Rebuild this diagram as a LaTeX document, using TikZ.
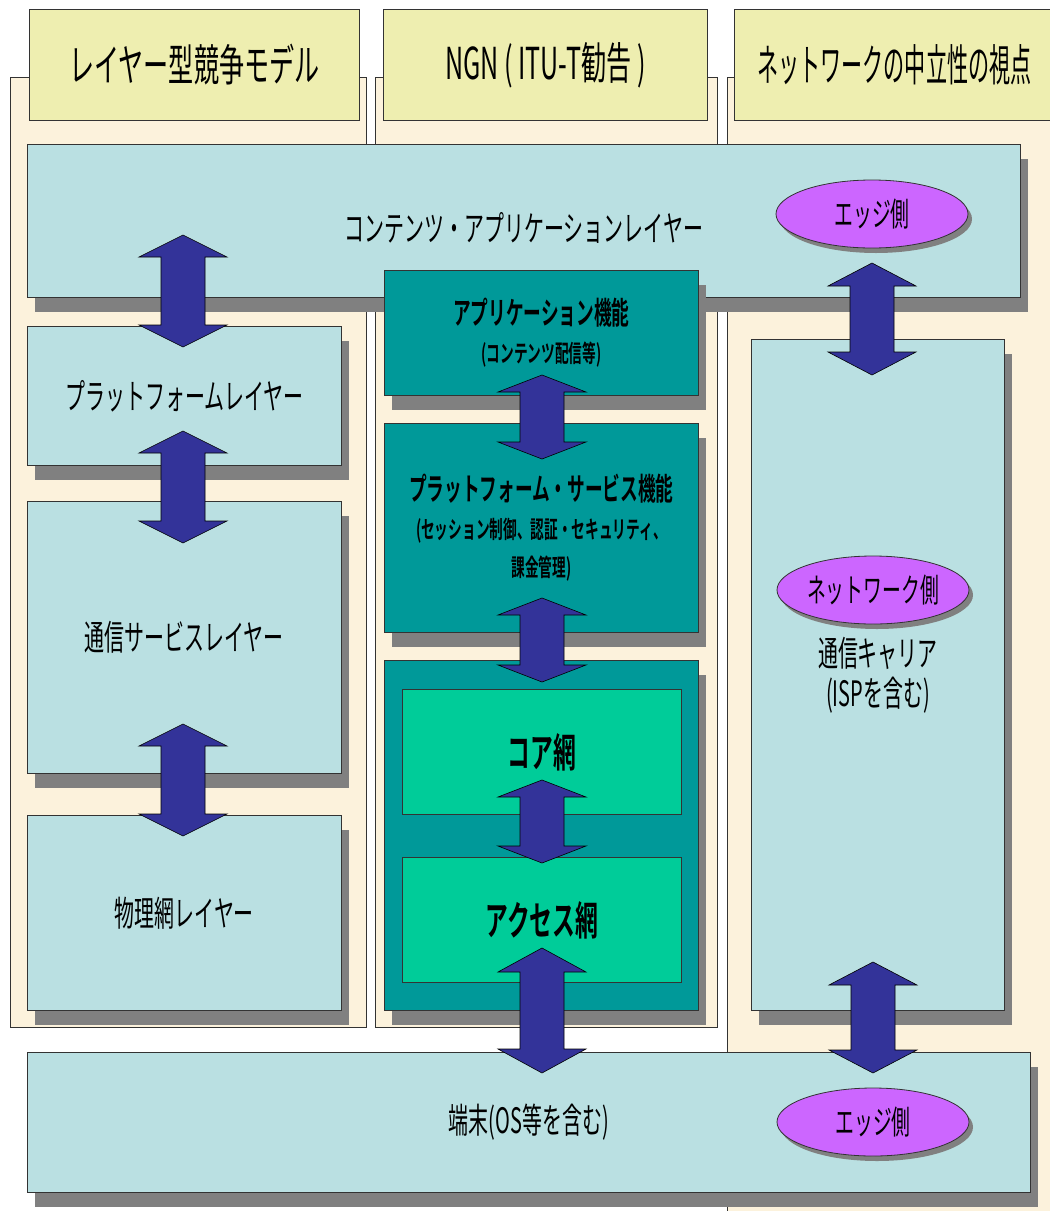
\documentclass[tikz,border=0pt]{standalone}
\usepackage{fontspec}
\setmainfont{Noto Sans CJK JP}[FakeStretch=0.57, BoldFont={Noto Sans CJK JP Bold}]
\usepackage{tikz}
\usetikzlibrary{shapes.geometric,shadows,calc}
\definecolor{ngncream}{RGB}{252,242,220}
\definecolor{ngnyellow}{RGB}{238,238,176}
\definecolor{ngnblue}{RGB}{186,224,226}
\definecolor{ngnteal}{RGB}{0,153,153}
\definecolor{ngngreen}{RGB}{0,204,153}
\definecolor{ngnnavy}{RGB}{51,51,153}
\definecolor{ngnpurple}{RGB}{204,102,255}
\definecolor{ngnshadow}{RGB}{128,128,128}

\tikzset{
    colbg/.style={draw=black!80, fill=ngncream, line width=0.8pt},
    header/.style={draw=black!80, fill=ngnyellow, line width=0.8pt, anchor=north west,
        inner sep=0pt, minimum height=111pt, font=\fontsize{44}{48}\selectfont},
    layer/.style={draw=black!80, fill=ngnblue, line width=0.8pt, anchor=north west,
        inner sep=0pt, align=center, font=\fontsize{35}{40}\selectfont,
        drop shadow={shadow xshift=8pt, shadow yshift=-15pt, fill=ngnshadow, opacity=1}},
    ngnbox/.style={layer, fill=ngnteal, font=\bfseries\fontsize{31}{38}\selectfont},
    netbox/.style={draw=black!80, fill=ngngreen, line width=0.8pt, anchor=north west,
        inner sep=0pt, minimum width=279pt, minimum height=125pt,
        font=\bfseries\fontsize{40}{44}\selectfont},
    side/.style={ellipse, draw=black!80, fill=ngnpurple, line width=0.8pt,
        minimum width=192pt, minimum height=68pt, inner sep=0pt,
        font=\fontsize{33}{36}\selectfont,
        drop shadow={shadow xshift=4pt, shadow yshift=-5pt, fill=ngnshadow, opacity=1}},
    bigarrow/.style={draw=black, line width=0.6pt, fill=ngnnavy,
        to path={let \p1=(\tikztostart), \p2=(\tikztotarget) in
            (\x1,\y1) -- (\x1+44pt,\y1-#1) -- (\x1+22pt,\y1-#1) -- (\x1+22pt,\y2+#1)
            -- (\x1+44pt,\y2+#1) -- (\x1,\y2) -- (\x1-44pt,\y2+#1) -- (\x1-22pt,\y2+#1)
            -- (\x1-22pt,\y1-#1) -- (\x1-44pt,\y1-#1) -- cycle}},
    bigarrow/.default=22pt
}

\begin{document}
\begin{tikzpicture}[x=1pt, y=-1pt]
    \useasboundingbox (0,0) rectangle (1050,1211);

    % Column backgrounds
    \draw[colbg] (10,77) rectangle (366,1027);
    \draw[colbg] (375,77) rectangle (717,1027);
    \fill[ngncream] (727,77) rectangle (1050,1211);
    \draw[black!80, line width=0.8pt] (727,1211) -- (727,77) -- (1050,77);

    % Column headers
    \node[header, minimum width=330pt] (hleft) at (29,9) {レイヤー型競争モデル};
    \node[header, minimum width=324pt] (hmid) at (383,9) {NGN ( ITU-T勧告 )};
    \node[header, minimum width=320pt] (hright) at (734,9) {\scalebox{0.84}[1]{ネットワークの中立性の視点}};

    % Contents / application layer
    \node[layer, minimum width=993pt, minimum height=153pt, text height=43pt] (ctx) at (27,144) {コンテンツ・アプリケーションレイヤー};
    \node[side] (edgetop) at (872,214) {エッジ側};

    % Layered competition model
    \node[layer, minimum width=314pt, minimum height=139pt] (plat) at (27,326) {プラットフォームレイヤー};
    \node[layer, minimum width=314pt, minimum height=272pt] (comm) at (27,501) {通信サービスレイヤー};
    \node[layer, minimum width=314pt, minimum height=195pt] (phys) at (27,815) {物理網レイヤー};

    % NGN functions
    \node[ngnbox, minimum width=314pt, minimum height=125pt] (appfn) at (384,270) {
        アプリケーション機能 \\
        {\fontsize{24}{30}\selectfont (コンテンツ配信等)}
    };
    \node[ngnbox, minimum width=314pt, minimum height=209pt] (platfn) at (384,423) {
        プラットフォーム・サービス機能 \\
        {\fontsize{24}{30}\selectfont (セッション制御、認証・セキュリティ、} \\
        {\fontsize{24}{30}\selectfont 課金管理)}
    };
    \node[ngnbox, minimum width=314pt, minimum height=350pt] (netfn) at (384,660) {};
    \node[netbox] (core) at (402,689) {コア網};
    \node[netbox] (access) at (402,857) {アクセス網};

    % Network neutrality view
    \node[layer, minimum width=253pt, minimum height=671pt] (carrier) at (751,339) {
        通信キャリア \\
        (ISPを含む)
    };
    \node[side] (netside) at (873,590) {ネットワーク側};

    % Terminal
    \node[layer, minimum width=1003pt, minimum height=140pt] (term) at (27,1052) {端末(OS等を含む)};
    \node[side] (edgebot) at (873,1122) {エッジ側};

    % Arrow ends
    \coordinate (l1top) at (183,235);  \coordinate (l1bot) at (183,347);
    \coordinate (l2top) at (183,431);  \coordinate (l2bot) at (183,543);
    \coordinate (l3top) at (183,724);  \coordinate (l3bot) at (183,836);
    \coordinate (m1top) at (542,375);  \coordinate (m1bot) at (542,459);
    \coordinate (m2top) at (542,598);  \coordinate (m2bot) at (542,682);
    \coordinate (m3top) at (542,780);  \coordinate (m3bot) at (542,863);
    \coordinate (m4top) at (542,948);  \coordinate (m4bot) at (542,1073);
    \coordinate (r1top) at (872,263);  \coordinate (r1bot) at (872,375);
    \coordinate (r2top) at (873,962);  \coordinate (r2bot) at (873,1073);

    % Double arrows
    \draw[bigarrow] (l1top) to (l1bot);
    \draw[bigarrow] (l2top) to (l2bot);
    \draw[bigarrow] (l3top) to (l3bot);
    \draw[bigarrow=17pt] (m1top) to (m1bot);
    \draw[bigarrow=17pt] (m2top) to (m2bot);
    \draw[bigarrow=17pt] (m3top) to (m3bot);
    \draw[bigarrow=24pt] (m4top) to (m4bot);
    \draw[bigarrow=23pt] (r1top) to (r1bot);
    \draw[bigarrow=23pt] (r2top) to (r2bot);
\end{tikzpicture}
\end{document}
